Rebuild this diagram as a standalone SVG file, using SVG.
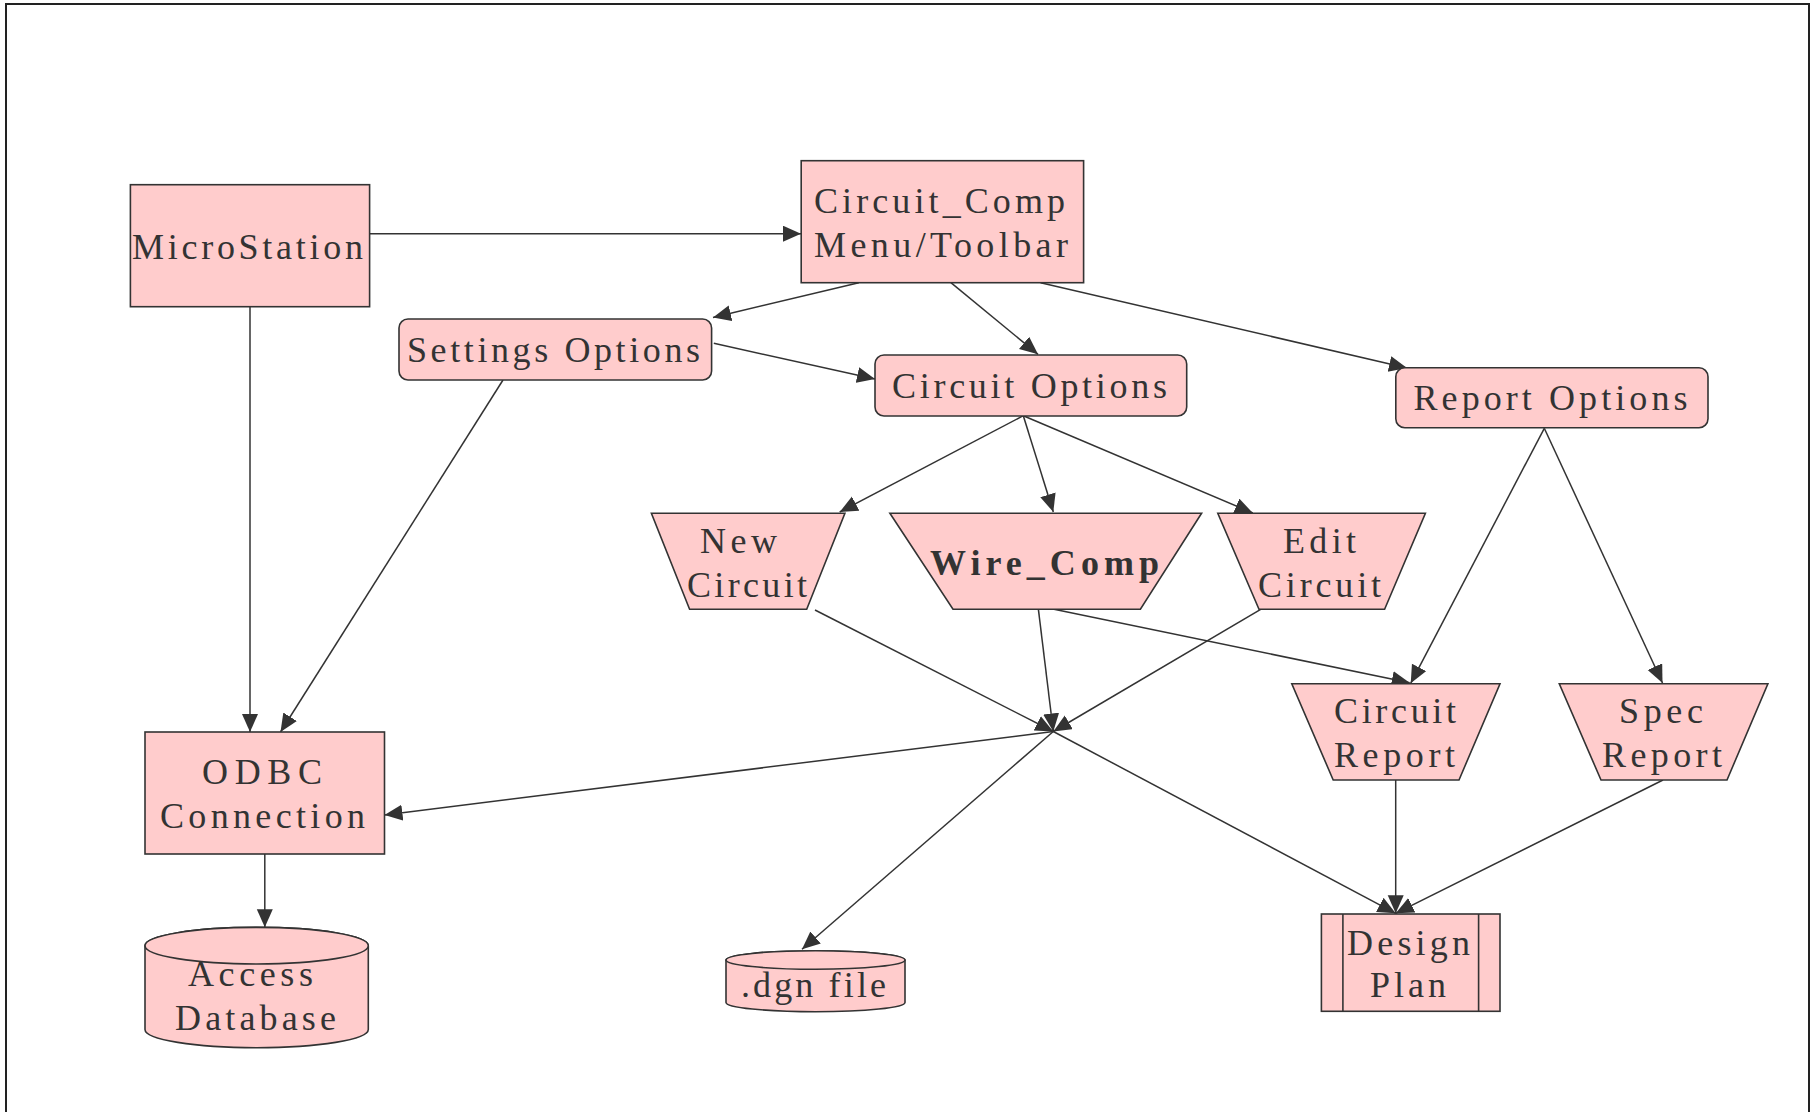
<svg xmlns="http://www.w3.org/2000/svg" width="1815" height="1112" viewBox="0 0 1815 1112">
<defs>
<style>
.n{fill:#ffcccc;stroke:#333;stroke-width:1.6}
.t{font-family:"Liberation Serif","Times New Roman",serif;font-size:36px;fill:#333}
.b{font-weight:bold}
.e{stroke:#333;stroke-width:1.5;fill:none;marker-end:url(#ah)}
</style>
<marker id="ah" markerUnits="userSpaceOnUse" markerWidth="20" markerHeight="17" refX="18" refY="8" orient="auto">
<path d="M0,0 L18,8 L0,16 Z" fill="#333"/>
</marker>
</defs>
<rect width="1815" height="1112" fill="#fff"/>
<rect x="6" y="4" width="1803" height="1130" fill="none" stroke="#222" stroke-width="2"/>

<g id="connectors">
<line class="e" x1="369.6" y1="233.7" x2="801" y2="233.7"/>
<line class="e" x1="858.8" y1="282.7" x2="713" y2="317.5"/>
<line class="e" x1="713.8" y1="343.3" x2="875" y2="379"/>
<line class="e" x1="950.9" y1="282.7" x2="1038" y2="354.3"/>
<line class="e" x1="1040.6" y1="282.7" x2="1407" y2="368"/>
<line class="e" x1="250" y1="306.7" x2="250" y2="732"/>
<line class="e" x1="503" y1="380" x2="280.5" y2="732"/>
<line class="e" x1="1023.3" y1="415.7" x2="839.7" y2="512"/>
<line class="e" x1="1023.3" y1="415.7" x2="1053.3" y2="512"/>
<line class="e" x1="1023.3" y1="415.7" x2="1252.8" y2="513"/>
<line class="e" x1="1544.3" y1="428.3" x2="1410.7" y2="683.3"/>
<line class="e" x1="1544.3" y1="428.3" x2="1662.5" y2="683"/>
<line class="e" x1="1054" y1="609.3" x2="1409.7" y2="682.7"/>
<line class="e" x1="815" y1="610" x2="1053.3" y2="731.5"/>
<line class="e" x1="1038.4" y1="609.3" x2="1053.3" y2="731.5"/>
<line class="e" x1="1260.7" y1="609.3" x2="1053.3" y2="731.5"/>
<line class="e" x1="1053.3" y1="731.5" x2="384.5" y2="815"/>
<line class="e" x1="1053.3" y1="731.5" x2="802" y2="949.3"/>
<line class="e" x1="1053.3" y1="731.5" x2="1395.7" y2="913.3"/>
<line class="e" x1="1395.7" y1="780" x2="1395.7" y2="913.3"/>
<line class="e" x1="1663" y1="780" x2="1395.7" y2="913.3"/>
<line class="e" x1="264.8" y1="854" x2="264.8" y2="927.3"/>
</g>

<g id="microstation">
<rect class="n" x="130.4" y="184.7" width="239.2" height="122"/>
<text class="t" x="132" y="259" textLength="231" lengthAdjust="spacing">MicroStation</text>
</g>

<g id="circuit-comp">
<rect class="n" x="801.2" y="160.7" width="282.4" height="122"/>
<text class="t" x="814" y="213.3" textLength="251" lengthAdjust="spacing">Circuit_Comp</text>
<text class="t" x="814" y="257.3" textLength="254" lengthAdjust="spacing">Menu/Toolbar</text>
</g>

<g id="settings-options">
<rect class="n" x="399" y="319" width="312.6" height="61" rx="9"/>
<text class="t" x="407" y="362.3" textLength="293" lengthAdjust="spacing">Settings Options</text>
</g>

<g id="circuit-options">
<rect class="n" x="875" y="355" width="311.7" height="61" rx="9"/>
<text class="t" x="892" y="398.3" textLength="275" lengthAdjust="spacing">Circuit Options</text>
</g>

<g id="report-options">
<rect class="n" x="1395.8" y="367.7" width="312.2" height="60" rx="9"/>
<text class="t" x="1413.5" y="410" textLength="274" lengthAdjust="spacing">Report Options</text>
</g>

<g id="new-circuit">
<polygon class="n" points="651.4,513.3 844.9,513.3 806.7,609.3 689.6,609.3"/>
<text class="t" x="700" y="552.7" textLength="77" lengthAdjust="spacing">New</text>
<text class="t" x="687" y="596.7" textLength="120" lengthAdjust="spacing">Circuit</text>
</g>

<g id="wire-comp">
<polygon class="n" points="889.9,513.3 1201.6,513.3 1140.4,609.3 953,609.3"/>
<text class="t b" x="930" y="575" textLength="229" lengthAdjust="spacing">Wire_Comp</text>
</g>

<g id="edit-circuit">
<polygon class="n" points="1217.8,513.3 1425.4,513.3 1384.6,609.3 1259,609.3"/>
<text class="t" x="1283" y="552.7" textLength="73" lengthAdjust="spacing">Edit</text>
<text class="t" x="1258" y="596.7" textLength="123" lengthAdjust="spacing">Circuit</text>
</g>

<g id="circuit-report">
<polygon class="n" points="1291.8,683.7 1500,683.7 1459,780 1333.2,780"/>
<text class="t" x="1334" y="722.7" textLength="122" lengthAdjust="spacing">Circuit</text>
<text class="t" x="1334" y="766.7" textLength="121" lengthAdjust="spacing">Report</text>
</g>

<g id="spec-report">
<polygon class="n" points="1559.3,683.7 1767.9,683.7 1727,780 1601,780"/>
<text class="t" x="1619" y="722.7" textLength="84" lengthAdjust="spacing">Spec</text>
<text class="t" x="1602" y="766.7" textLength="120" lengthAdjust="spacing">Report</text>
</g>

<g id="design-plan">
<rect class="n" x="1321.4" y="914" width="178.6" height="97.3"/>
<line x1="1342.9" y1="914" x2="1342.9" y2="1011.3" stroke="#333" stroke-width="1.6"/>
<line x1="1478.6" y1="914" x2="1478.6" y2="1011.3" stroke="#333" stroke-width="1.6"/>
<text class="t" x="1347" y="955" textLength="123" lengthAdjust="spacing">Design</text>
<text class="t" x="1370" y="997.3" textLength="76" lengthAdjust="spacing">Plan</text>
</g>

<g id="odbc">
<rect class="n" x="145" y="732" width="239.5" height="122"/>
<text class="t" x="202" y="784" textLength="120" lengthAdjust="spacing">ODBC</text>
<text class="t" x="160" y="827.7" textLength="205" lengthAdjust="spacing">Connection</text>
</g>

<g id="access-db">
<path class="n" d="M145,945.7 L145,1029.4 A111.65,18.3 0 0 0 368.3,1029.4 L368.3,945.7 A111.65,18.3 0 0 0 145,945.7 Z"/>
<ellipse class="n" cx="256.65" cy="945.7" rx="111.65" ry="18.3"/>
<text class="t" x="188" y="986" textLength="125" lengthAdjust="spacing">Access</text>
<text class="t" x="175" y="1030" textLength="161" lengthAdjust="spacing">Database</text>
</g>

<g id="dgn-file">
<path class="n" d="M726,960 L726,1002.4 A89.5,9.3 0 0 0 905,1002.4 L905,960 A89.5,9.3 0 0 0 726,960 Z"/>
<ellipse class="n" cx="815.5" cy="960" rx="89.5" ry="9.3"/>
<text class="t" x="741" y="996.7" textLength="145" lengthAdjust="spacing">.dgn file</text>
</g>
</svg>
